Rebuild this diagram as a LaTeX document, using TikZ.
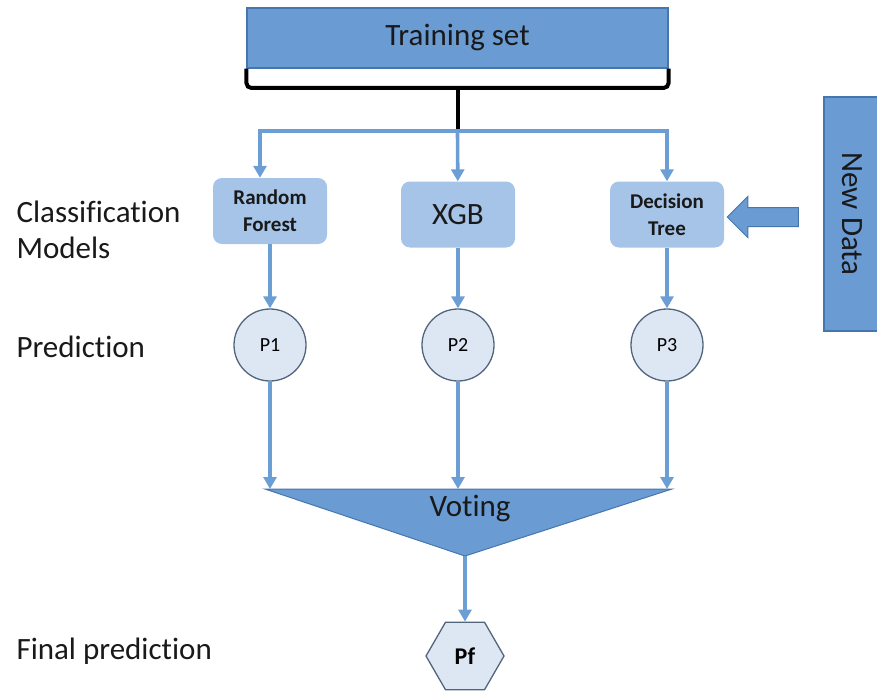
\documentclass[tikz,border=0pt]{standalone}
\usepackage{fontspec}
\setmainfont{Carlito}[Ligatures=NoCommon]
\usetikzlibrary{arrows.meta,shapes.geometric,shapes.arrows}

\definecolor{midblue}{HTML}{6A9BD3}
\definecolor{darkblue}{HTML}{4676AE}
\definecolor{lightblue}{HTML}{A6C3E8}
\definecolor{paleblue}{HTML}{DDE7F4}
\definecolor{slate}{HTML}{53657D}
\definecolor{linkblue}{HTML}{6C9ED6}

\begin{document}
\begin{tikzpicture}[x=1pt,y=-1pt]

      \tikzset{bigbox/.style={draw=darkblue, line width=1.2pt, fill=midblue, inner sep=0pt, text=black!90, font=\fontsize{31}{36}\selectfont},
               model/.style={fill=lightblue, rounded corners=9pt, minimum width=114pt, minimum height=66pt, inner sep=0pt, align=center, text=black!90},
               pred/.style={draw=slate, line width=1.3pt, fill=paleblue, circle, minimum size=72pt, inner sep=0pt, font=\fontsize{20}{24}\selectfont},
               flow/.style={draw=linkblue, line width=3.6pt, -{Triangle[width=13pt,length=12pt]}},
               brace/.style={draw=black, line width=4pt, rounded corners=5pt},
               side/.style={anchor=west, align=left, text=black!90, font=\fontsize{31}{36}\selectfont}}
      \useasboundingbox (0,0) rectangle (877,690);

%% Boxes
      	\node[bigbox, minimum width=421pt, minimum height=60pt] (train) at (457.5,38) {Training set};
      	\node[bigbox, rotate=-90, minimum width=234pt, minimum height=56pt] (newdata) at (852,214) {New Data};
      	\node[model, font=\bfseries\fontsize{21}{27}\selectfont] (rf) at (270,211) {Random\\Forest};
      	\node[model, font=\fontsize{31}{36}\selectfont] (xgb) at (458,214.5) {XGB};
      	\node[model, font=\bfseries\fontsize{21}{27}\selectfont] (dt) at (667,214.5) {Decision\\Tree};
      	\node[single arrow, shape border rotate=180, draw=darkblue, fill=midblue, line width=1pt, minimum height=71pt, single arrow head extend=11pt, inner xsep=0pt, inner ysep=9pt] (push) at (767.5,217) {};

%% Predictions
      	\node[pred] (p1) at (270,345) {P1};
      	\node[pred] (p2) at (458,345) {P2};
      	\node[pred] (p3) at (667,345) {P3};
      	\node[regular polygon, regular polygon sides=6, minimum size=78pt, inner sep=0pt, draw=slate, fill=paleblue, line width=1.3pt, font=\bfseries\fontsize{24}{28}\selectfont] (pf) at (465,656) {Pf};

%% Voting
      	\coordinate (vl) at (265,489);
      	\coordinate (vr) at (672,489);
      	\coordinate (vtip) at (465,556);
      	\draw[draw=darkblue, fill=midblue, line width=1pt] (vl) -- (vr) -- (vtip) -- cycle;
      	\node[text=black!90, font=\fontsize{31}{36}\selectfont] (vote) at (470,508) {Voting};

%% Labels
      	\node[side] (clslabel) at (13,230) {Classification\\Models};
      	\node[side] (predlabel) at (13,347) {Prediction};
      	\node[side] (finallabel) at (13,651) {Final prediction};

%Edges
      	\coordinate (split) at (457.5,88);
      	\coordinate (fork) at (457.5,131);
		\draw[brace] (train.south west) |- (split) -| (train.south east);
		\draw[brace] (split) -- (fork);
		\draw[flow] (fork) -| ([xshift=-10pt]rf.north);
		\draw[flow] (fork) -| (dt.north);
		\draw[flow] (fork) -- (xgb);
		\path (rf) edge[flow] (p1);
		\path (xgb) edge[flow] (p2);
		\path (dt) edge[flow] (p3);
		\draw[flow] (p1) -- (p1 |- vl);
		\draw[flow] (p2) -- (p2 |- vl);
		\draw[flow] (p3) -- (p3 |- vl);
		\draw[flow] (vtip) -- (pf);
	\end{tikzpicture}
\end{document}
